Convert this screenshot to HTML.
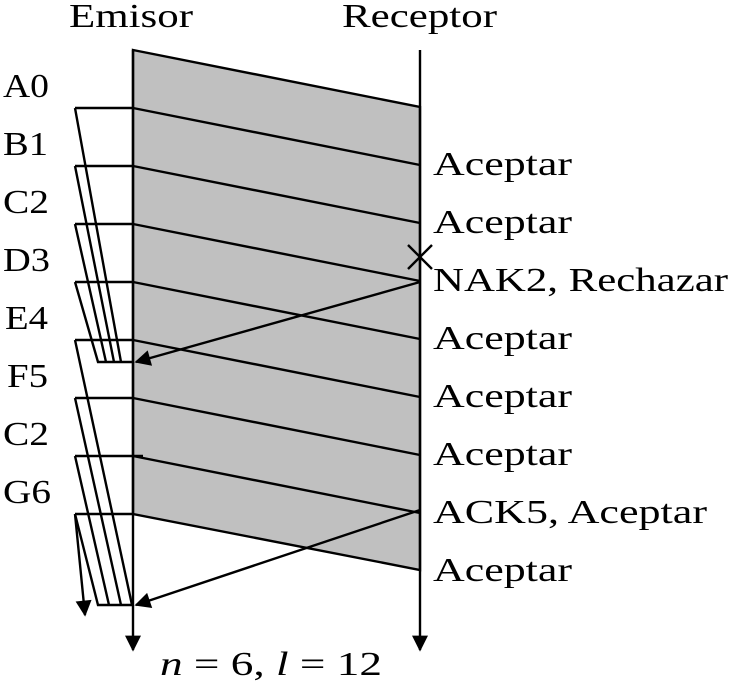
<!DOCTYPE html><html><head><style>body{margin:0;background:#fff}svg{display:block}text{font-family:"Liberation Serif",serif;font-size:34px;fill:#000}</style></head><body>
<svg width="730" height="682" xmlns="http://www.w3.org/2000/svg">
<defs><marker id="b" viewBox="0 0 10 10" markerWidth="20" markerHeight="16" refX="9" refY="5" orient="auto" markerUnits="userSpaceOnUse"><path d="M0,0L10,5L0,10z"/></marker></defs>
<polygon points="133,50 420,107 420,570 133,514" fill="#c0c0c0" stroke="#000" stroke-width="2.4"/>
<g stroke="#000" stroke-width="2.4" fill="none">
<line x1="133" y1="108" x2="420" y2="165"/><line x1="133" y1="166" x2="420" y2="223"/><line x1="133" y1="224" x2="420" y2="281"/><line x1="133" y1="282" x2="420" y2="339"/><line x1="133" y1="340" x2="420" y2="397"/><line x1="133" y1="398" x2="420" y2="455"/><line x1="133" y1="456" x2="420" y2="513"/>
<line x1="133" y1="50" x2="133" y2="650" marker-end="url(#b)"/><line x1="420" y1="50" x2="420" y2="650" marker-end="url(#b)"/>
<line x1="408" y1="245" x2="432" y2="269"/><line x1="408" y1="269" x2="432" y2="245"/>
<line x1="420" y1="282" x2="136" y2="362" marker-end="url(#b)"/>
<line x1="420" y1="510" x2="136" y2="605" marker-end="url(#b)"/>
<path d="M75,108H133M75,166H133M75,224H133M75,282H133M75,340H133M75,398H133M75,456H143M75,514H133"/>
<path d="M75,108L121,362M75,166L114,362M75,224L106,362M75,282L98,362H133"/>
<path d="M75,340L132,605M75,398L121,605M75,456L109,605M75,514L98,605H133"/>
<line x1="75" y1="514" x2="85" y2="615" marker-end="url(#b)"/>
</g>
<text x="69" y="27" textLength="124" lengthAdjust="spacingAndGlyphs">Emisor</text><text x="342" y="27" textLength="155" lengthAdjust="spacingAndGlyphs">Receptor</text>
<g><text x="3" y="97" textLength="46" lengthAdjust="spacingAndGlyphs">A0</text><text x="3" y="155" textLength="45" lengthAdjust="spacingAndGlyphs">B1</text><text x="3" y="213" textLength="46" lengthAdjust="spacingAndGlyphs">C2</text><text x="3" y="271" textLength="47" lengthAdjust="spacingAndGlyphs">D3</text><text x="5" y="329" textLength="43" lengthAdjust="spacingAndGlyphs">E4</text><text x="7" y="387" textLength="41" lengthAdjust="spacingAndGlyphs">F5</text><text x="3" y="445" textLength="46" lengthAdjust="spacingAndGlyphs">C2</text><text x="3" y="503" textLength="48" lengthAdjust="spacingAndGlyphs">G6</text></g>
<g><text x="433" y="175" textLength="139" lengthAdjust="spacingAndGlyphs">Aceptar</text><text x="433" y="233" textLength="139" lengthAdjust="spacingAndGlyphs">Aceptar</text><text x="433" y="291" textLength="295" lengthAdjust="spacingAndGlyphs">NAK2, Rechazar</text><text x="433" y="349" textLength="139" lengthAdjust="spacingAndGlyphs">Aceptar</text><text x="433" y="407" textLength="139" lengthAdjust="spacingAndGlyphs">Aceptar</text><text x="433" y="465" textLength="139" lengthAdjust="spacingAndGlyphs">Aceptar</text><text x="433" y="523" textLength="274" lengthAdjust="spacingAndGlyphs">ACK5, Aceptar</text><text x="433" y="581" textLength="139" lengthAdjust="spacingAndGlyphs">Aceptar</text></g>
<text x="160" y="675" textLength="222" lengthAdjust="spacingAndGlyphs"><tspan font-style="italic">n</tspan> = 6, <tspan font-style="italic">l</tspan> = 12</text>
</svg></body></html>
